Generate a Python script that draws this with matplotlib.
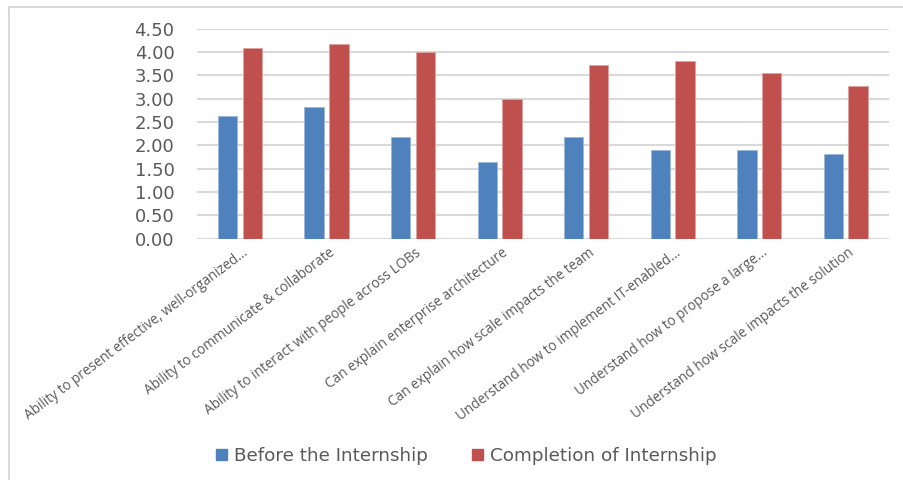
import matplotlib
matplotlib.use("Agg")
import matplotlib.pyplot as plt
from matplotlib.lines import Line2D
from matplotlib.patches import Patch
import numpy as np

# survey items (labels truncated as in the source chart)
categories = [
    "Ability to present effective, well-organized...",
    "Ability to communicate & collaborate",
    "Ability to interact with people across LOBs",
    "Can explain enterprise architecture",
    "Can explain how scale impacts the team",
    "Understand how to implement IT-enabled...",
    "Understand how to propose a large...",
    "Understand how scale impacts the solution",
]
before = [2.64, 2.82, 2.18, 1.64, 2.18, 1.91, 1.91, 1.82]
after = [4.09, 4.18, 4.00, 3.00, 3.73, 3.82, 3.55, 3.27]
yticks = [0, 0.5, 1.0, 1.5, 2.0, 2.5, 3.0, 3.5, 4.0, 4.5]

blue = "#4F81BD"
red = "#C0504D"
grey_txt = "#595959"
grid_c = "#D9D9D9"

fig = plt.figure(figsize=(9.04, 4.8), dpi=100)
ax = fig.add_axes([0.2176, 0.5027, 0.7658, 0.4373])

x = np.arange(len(categories))
w = 0.224
ax.bar(x - 0.143, before, w, color=blue, edgecolor="#9DB7DB", linewidth=0.6, zorder=3)
ax.bar(x + 0.143, after, w, color=red, edgecolor="#E0A3A1", linewidth=0.6, zorder=3)

ax.set_xlim(-0.5, len(categories) - 0.5)
ax.set_ylim(0, 4.5)
ax.set_yticks(yticks)
ax.set_yticklabels([f"{v:.2f}" for v in yticks], fontsize=13, color=grey_txt)
ax.tick_params(axis="y", length=0, pad=16)
ax.set_xticks([])
for s in ax.spines.values():
    s.set_visible(False)
ax.yaxis.grid(True, color=grid_c, linewidth=1.5, zorder=0)

# rotated category labels
for i, lab in enumerate(categories):
    ax.annotate(lab, xy=(i + 0.1, 0), xycoords=("data", "axes fraction"),
                xytext=(0, -11), textcoords="offset points",
                rotation=37, rotation_mode="anchor", ha="right", va="baseline",
                fontsize=9.8, color=grey_txt, family="Open Sans")

handles = [Patch(color=blue), Patch(color=red)]
fig.legend(handles, ["Before the Internship", "Completion of Internship"],
           loc="center", bbox_to_anchor=(0.516, 0.05), ncol=2, frameon=False,
           fontsize=13.2, labelcolor=grey_txt, handlelength=0.6, handleheight=0.6,
           handletextpad=0.4, columnspacing=2.4)

# outer chart border (top and left visible)
fig.add_artist(Line2D([9 / 904, 1], [1 - 7 / 480, 1 - 7 / 480], color=grid_c, linewidth=1.5))
fig.add_artist(Line2D([9 / 904, 9 / 904], [0, 1 - 7 / 480], color=grid_c, linewidth=1.5))

fig.savefig("out.png", dpi=100)
